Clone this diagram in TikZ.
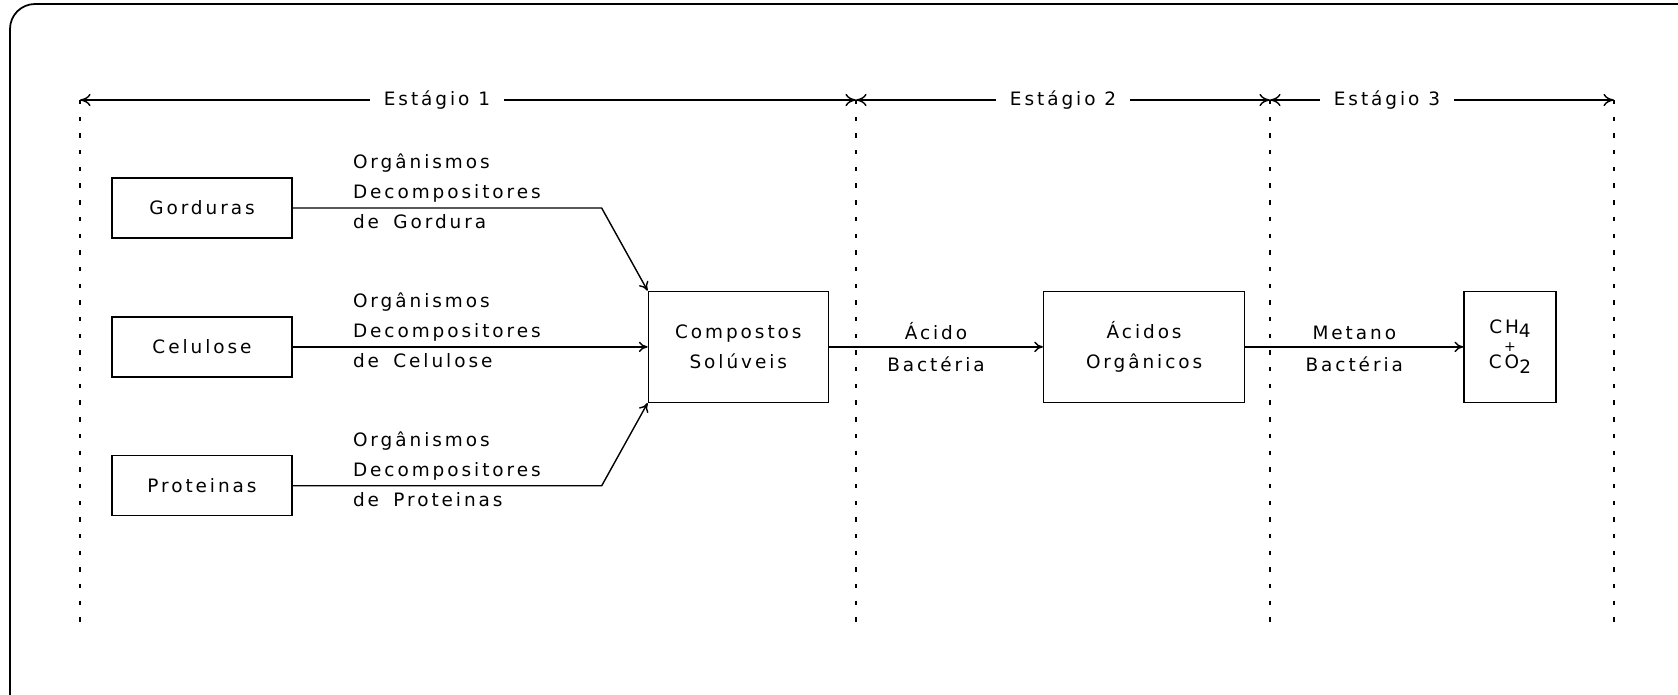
\documentclass[tikz,border=0pt]{standalone}
\usepackage{fontspec}
\setmainfont[LetterSpace=16]{DejaVu Sans}
\usetikzlibrary{arrows.meta,positioning}

\begin{document}
\begin{tikzpicture}[
    x=0.02cm, y=-0.02cm,
    font=\fontsize{10.5}{17}\selectfont,
    box/.style={rectangle, draw, line width=0.8pt, minimum width=3.6cm, minimum height=1.2cm, align=center},
    arrow/.style={-{To[length=5pt,width=6pt]}, line width=0.8pt},
    lbl/.style={inner sep=0pt, align=left},
    stage/.style={{To[length=6pt,width=7pt]}-{To[length=6pt,width=7pt]}, line width=0.8pt},
    limit/.style={line width=0.8pt, dash pattern=on 2.5pt off 7pt}
]
    \useasboundingbox (0,0) rectangle (1678,694);
    \draw[line width=1pt, rounded corners=0.5cm] (10,4) rectangle (1720,740);

    % estagios
    \coordinate (s0) at (80,100);
    \coordinate (s1) at (856,100);
    \coordinate (s2) at (1270,100);
    \coordinate (s3) at (1614,100);
    \foreach \s in {s0,s1,s2,s3}
        \draw[limit] (\s) -- ++(0,524);
    \draw[stage] (s0) -- node[pos=0.46, fill=white, inner xsep=8pt] {Estágio 1} (s1);
    \draw[stage] (s1) -- node[pos=0.5, fill=white, inner xsep=8pt] {Estágio 2} (s2);
    \draw[stage] (s2) -- node[pos=0.34, fill=white, inner xsep=8pt] {Estágio 3} (s3);

    % substratos
    \node[box] (gord) at (202,208) {Gorduras};
    \node[box, below=1.55cm of gord] (celu) {Celulose};
    \node[box, below=1.55cm of celu] (prot) {Proteinas};

    \node[box, right=7.1cm of celu, minimum height=2.22cm] (comp) {Compostos\\Solúveis};
    \node[box, right=4.28cm of comp, minimum width=4.02cm, minimum height=2.22cm] (acid) {Ácidos\\Orgânicos};
    \node[box, right=4.36cm of acid, minimum width=1.84cm, minimum height=2.22cm] (gas)
        {CH\raisebox{-0.4ex}{4}\\[-7pt]{\footnotesize +}\\[-7pt]CO\raisebox{-0.5ex}{2}};

    \node[lbl, right=1.2cm of gord.east, yshift=0.33cm] (glab) {Orgânismos\\Decompositores\\de\hspace{0.3em} Gordura};
    \node[lbl, right=1.2cm of celu.east, yshift=0.33cm] (clab) {Orgânismos\\Decompositores\\de\hspace{0.3em} Celulose};
    \node[lbl, right=1.2cm of prot.east, yshift=0.33cm] (plab) {Orgânismos\\Decompositores\\de\hspace{0.3em} Proteinas};

    \draw[arrow] (gord.east) -- ++(309,0) -- (comp.north west);
    \draw[arrow] (celu) -- (comp);
    \draw[arrow] (prot.east) -- ++(309,0) -- (comp.south west);
    \draw[arrow] (comp) -- node[lbl, above=3.5pt] {Ácido} node[lbl, below=5pt] {Bactéria} (acid);
    \draw[arrow] (acid) -- node[lbl, above=3.5pt] {Metano} node[lbl, below=5pt] {Bactéria} (gas);
\end{tikzpicture}
\end{document}
